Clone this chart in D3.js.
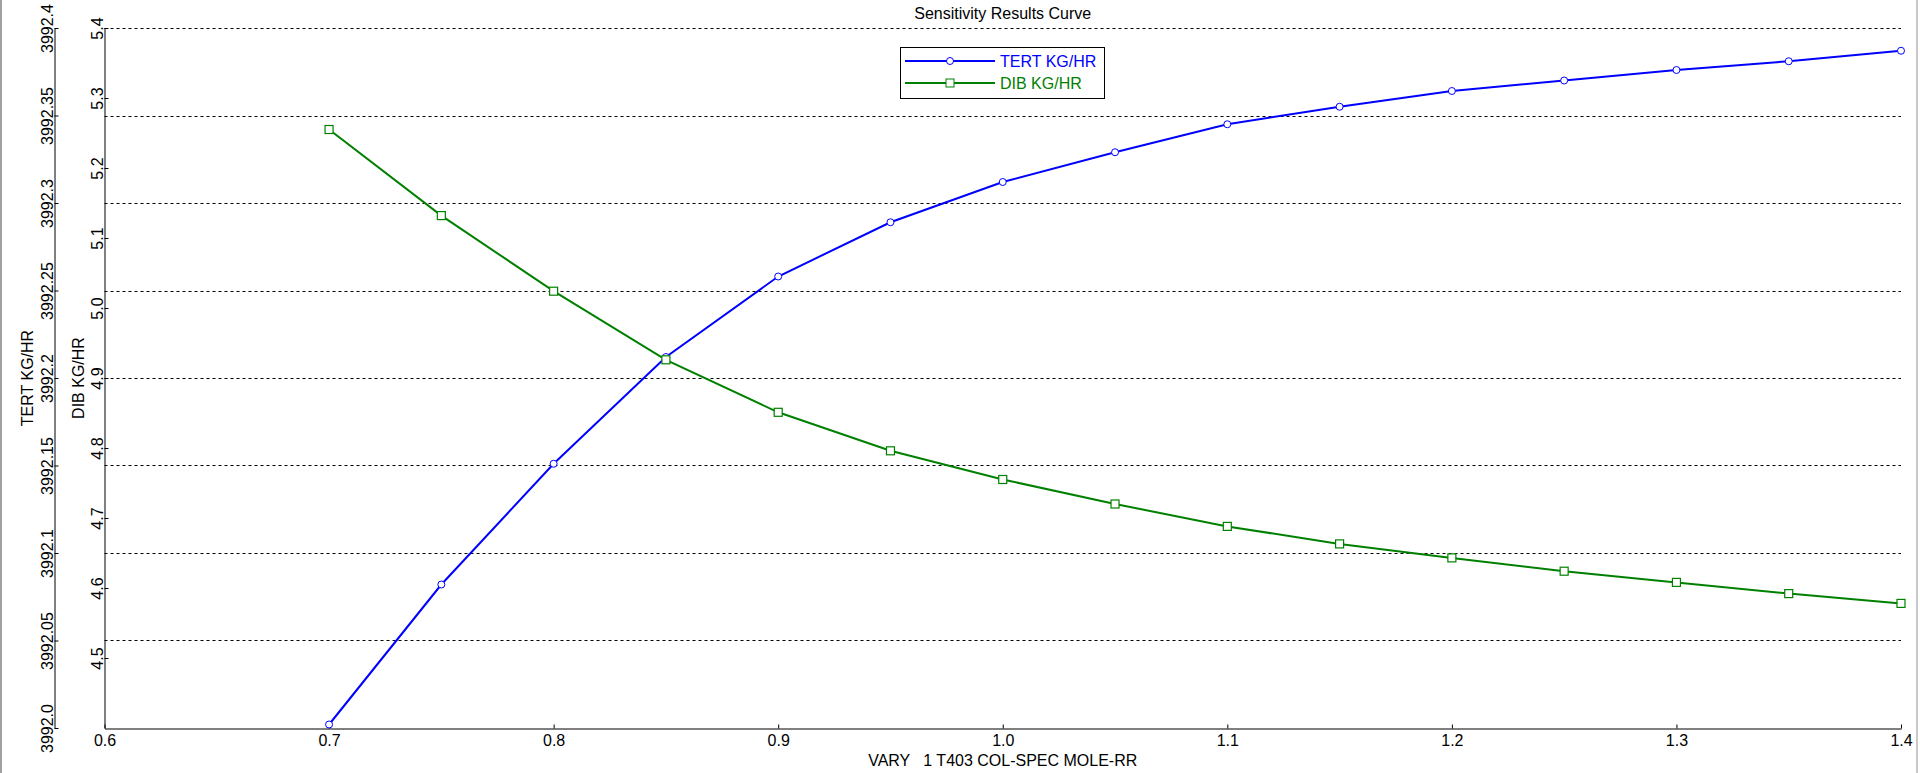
<!DOCTYPE html>
<html>
<head>
    <meta charset="UTF-8">
    <script src="https://d3js.org/d3.v7.min.js"></script>
    <title>Sensitivity Results Curve</title>
    <style>
        body{margin:0;background:#fff;}
        text{font-family:"Liberation Sans",Arial,sans-serif;font-size:16px;}
    </style>
</head>
<body>
    <div id="container"></div>
    <script>
        // data
        var rr=[0.7,0.75,0.8,0.85,0.9,0.95,1.0,1.05,1.1,1.15,1.2,1.25,1.3,1.35,1.4]
        var tert=[3992.002,3992.082,3992.151,3992.212,3992.258,3992.289,3992.312,3992.329,3992.345,3992.355,3992.364,3992.370,3992.376,3992.381,3992.387]
        var dib=[5.255,5.132,5.024,4.926,4.851,4.796,4.755,4.720,4.688,4.663,4.643,4.624,4.608,4.592,4.578]
        var xTicks=[0.6,0.7,0.8,0.9,1.0,1.1,1.2,1.3,1.4]
        var tertTicks=[3992.0,3992.05,3992.1,3992.15,3992.2,3992.25,3992.3,3992.35,3992.4]
        var dibTicks=[4.5,4.6,4.7,4.8,4.9,5.0,5.1,5.2,5.3,5.4]
        var seriesNames=["TERT KG/HR","DIB KG/HR"]

        var width=1920,height=773
        var plotL=104.5,plotR=1901,plotT=28,plotB=728
        var tertAxisX=54.5

        var svg=d3.select("#container").append("svg")
            .attr("width",width).attr("height",height)

        // window border
        svg.append("line").attr("x1",1).attr("x2",1).attr("y1",0).attr("y2",height)
            .attr("stroke","#a0a0a0").attr("stroke-width",2)
        svg.append("line").attr("x1",1917).attr("x2",1917).attr("y1",0).attr("y2",height)
            .attr("stroke","#c8c8c8").attr("stroke-width",2)

        var x=d3.scaleLinear().domain([0.6,1.4]).range([plotL,plotR])
        var yT=d3.scaleLinear().domain([3992.0,3992.4]).range([plotB,plotT])
        var yD=d3.scaleLinear().domain([4.4,5.4]).range([plotB,plotT])

        function fmtT(d){var s=d3.format(".2f")(d);s=s.replace(/0$/,"");return s}

        // dashed grid on TERT ticks
        svg.append("g").selectAll("line")
            .data(tertTicks.slice(1))
            .enter().append("line")
            .attr("x1",plotL).attr("x2",plotR)
            .attr("y1",function(d){return Math.round(yT(d))+0.5})
            .attr("y2",function(d){return Math.round(yT(d))+0.5})
            .attr("stroke","#000").attr("stroke-dasharray","3,3")

        // x axis
        var gx=svg.append("g").attr("transform","translate(0,"+(plotB+0.5)+")")
            .call(d3.axisBottom(x).tickValues(xTicks).tickFormat(d3.format(".1f")).tickSizeInner(-4).tickSizeOuter(0))
        gx.selectAll("text").attr("y",17).attr("dy",null)

        // TERT axis
        var gt=svg.append("g").attr("transform","translate("+tertAxisX+",0)")
            .call(d3.axisLeft(yT).tickValues(tertTicks).tickFormat(fmtT).tickSizeInner(-4).tickSizeOuter(0))
        gt.selectAll("text").attr("x",null).attr("dy",null)
            .attr("text-anchor","middle").attr("transform","translate(-2,0) rotate(-90)")

        // DIB axis
        var gd=svg.append("g").attr("transform","translate("+plotL+",0)")
            .call(d3.axisLeft(yD).tickValues(dibTicks).tickFormat(d3.format(".1f")).tickSizeInner(-4).tickSizeOuter(0))
        gd.selectAll("text").attr("x",null).attr("dy",null)
            .attr("text-anchor","middle").attr("transform","translate(-2,0) rotate(-90)")

        svg.selectAll(".domain").attr("stroke","#000")
        svg.selectAll(".tick line").attr("stroke","#000")
        svg.selectAll(".tick text").attr("fill","#000").style("font-size","16px")
            .style("font-family","'Liberation Sans',Arial,sans-serif")

        // axis titles
        svg.append("text").attr("transform","translate(33,"+((plotT+plotB)/2)+") rotate(-90)")
            .attr("text-anchor","middle").text(seriesNames[0])
        svg.append("text").attr("transform","translate(84,"+((plotT+plotB)/2)+") rotate(-90)")
            .attr("text-anchor","middle").text(seriesNames[1])
        svg.append("text").attr("x",(plotL+plotR)/2).attr("y",766)
            .attr("text-anchor","middle").style("white-space","pre")
            .text("VARY   1 T403 COL-SPEC MOLE-RR")
        svg.append("text").attr("x",(plotL+plotR)/2).attr("y",19)
            .attr("text-anchor","middle").text("Sensitivity Results Curve")

        // lines
        var lineT=d3.line().x(function(d,i){return x(rr[i])}).y(function(d){return yT(d)})
        var lineD=d3.line().x(function(d,i){return x(rr[i])}).y(function(d){return yD(d)})
        svg.append("path").datum(tert).attr("d",lineT)
            .attr("fill","none").attr("stroke","#0000ff").attr("stroke-width",2)
        svg.append("path").datum(dib).attr("d",lineD)
            .attr("fill","none").attr("stroke","#008000").attr("stroke-width",2)

        svg.append("g").selectAll("circle").data(tert).enter().append("circle")
            .attr("cx",function(d,i){return x(rr[i])}).attr("cy",function(d){return yT(d)})
            .attr("r",3.5).attr("fill","#fff").attr("stroke","#0000ff").attr("stroke-width",1)
        svg.append("g").selectAll("rect").data(dib).enter().append("rect")
            .attr("x",function(d,i){return x(rr[i])-4}).attr("y",function(d){return yD(d)-4})
            .attr("width",8).attr("height",8)
            .attr("fill","#fff").attr("stroke","#008000").attr("stroke-width",1.2)

        // legend
        var lg=svg.append("g")
        lg.append("rect").attr("x",900.5).attr("y",47.5).attr("width",204).attr("height",51)
            .attr("fill","#fff").attr("stroke","#000")
        lg.append("line").attr("x1",905).attr("x2",995).attr("y1",61).attr("y2",61)
            .attr("stroke","#0000ff").attr("stroke-width",2)
        lg.append("circle").attr("cx",950).attr("cy",61).attr("r",3.5)
            .attr("fill","#fff").attr("stroke","#0000ff")
        lg.append("text").attr("x",1000).attr("y",67).attr("fill","#0000ff").text(seriesNames[0])
        lg.append("line").attr("x1",905).attr("x2",995).attr("y1",83).attr("y2",83)
            .attr("stroke","#008000").attr("stroke-width",2)
        lg.append("rect").attr("x",946).attr("y",79).attr("width",8).attr("height",8)
            .attr("fill","#fff").attr("stroke","#008000")
        lg.append("text").attr("x",1000).attr("y",89).attr("fill","#008000").text(seriesNames[1])
    </script>
</body>
</html>
